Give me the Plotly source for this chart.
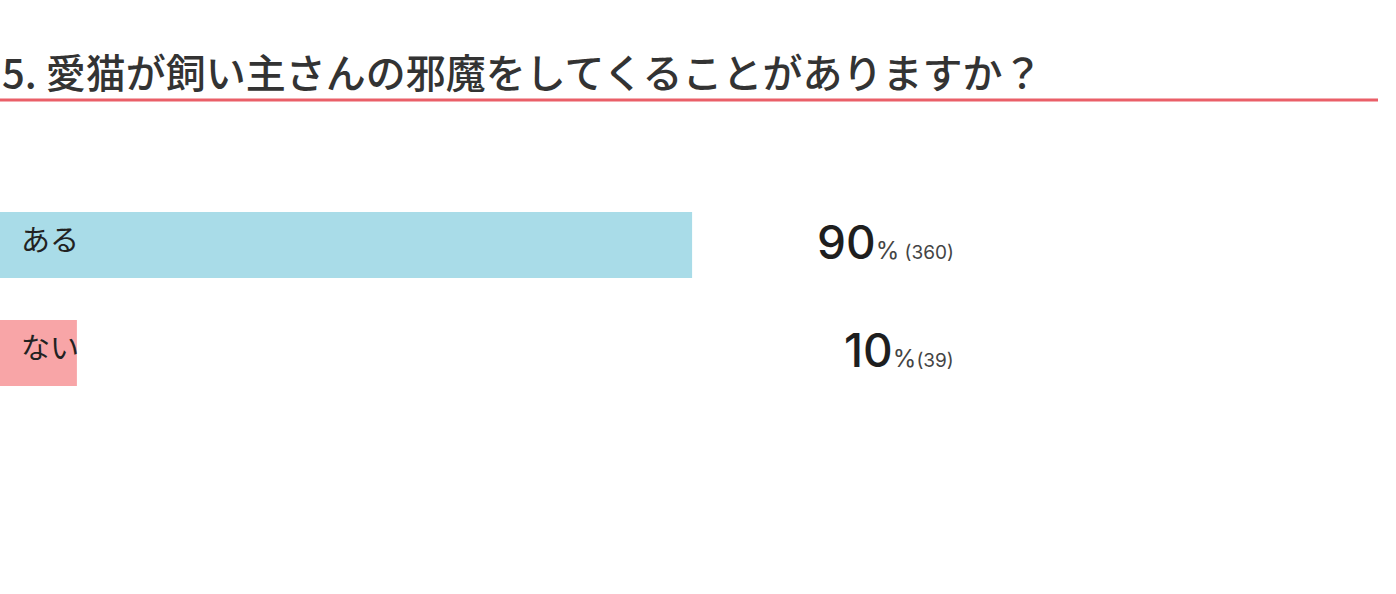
import plotly.graph_objects as go

# survey result
title = "5. 愛猫が飼い主さんの邪魔をしてくることがありますか？"
answers = ["ある", "ない"]
percents = [90, 10]
counts = [360, 39]
bar_colors = ["#a9dce8", "#f8a5a7"]

W, H = 1396, 594
PX_PER_PCT = 7.69  # 100% bar would be ~769px wide

fig = go.Figure()
fig.add_trace(go.Bar(
    x=percents,
    y=list(range(len(answers))),
    orientation="h",
    marker=dict(color=bar_colors, line=dict(width=0)),
    width=0.61,
    hoverinfo="skip",
))

# answer labels inside bars
for i, a in enumerate(answers):
    fig.add_annotation(
        x=19 / W, xref="paper", y=i, yref="y",
        text=a, showarrow=False, xanchor="left", yanchor="middle",
        yshift=7, font=dict(size=29, color="#222222", family="Noto Sans CJK JP"),
    )

# percentage + count, right aligned in one column
for i, (p, c) in enumerate(zip(percents, counts)):
    gap = " " if c >= 100 else ""
    txt = (f"<span style='font-size:46px'>{p}</span>"
           f"<span style='font-size:24px;color:#444;font-weight:400'>%</span>"
           f"<span style='font-size:19px;color:#444;font-weight:400'>{gap}({c})</span>")
    fig.add_annotation(
        x=956 / W, xref="paper", y=i, yref="y",
        text=txt, showarrow=False, xanchor="right", yanchor="middle",
        yshift=3, font=dict(size=46, color="#1e1e1e", family="Inter", weight=500),
    )

# heading and red rule
fig.add_annotation(
    x=0, xref="paper", y=1 - 71 / H, yref="paper",
    text=title, showarrow=False, xanchor="left", yanchor="middle",
    font=dict(size=40, color="#333333", family="Noto Sans CJK JP", weight=500),
)
fig.add_shape(
    type="line", xref="paper", yref="paper",
    x0=0, x1=1378 / W, y0=1 - 100 / H, y1=1 - 100 / H,
    line=dict(color="#ea5f68", width=3),
)

# bar centres at 245px and 353px from top
step = 108
fig.update_layout(
    width=W, height=H,
    margin=dict(l=0, r=0, t=0, b=0),
    paper_bgcolor="white", plot_bgcolor="white",
    showlegend=False,
    xaxis=dict(range=[0, W / PX_PER_PCT], visible=False, fixedrange=True),
    yaxis=dict(range=[(H - 245) / step, -245 / step], visible=False, fixedrange=True),
)

fig.write_html("out.html", config={"displayModeBar": False},
               post_script="document.body.style.margin='0';")
